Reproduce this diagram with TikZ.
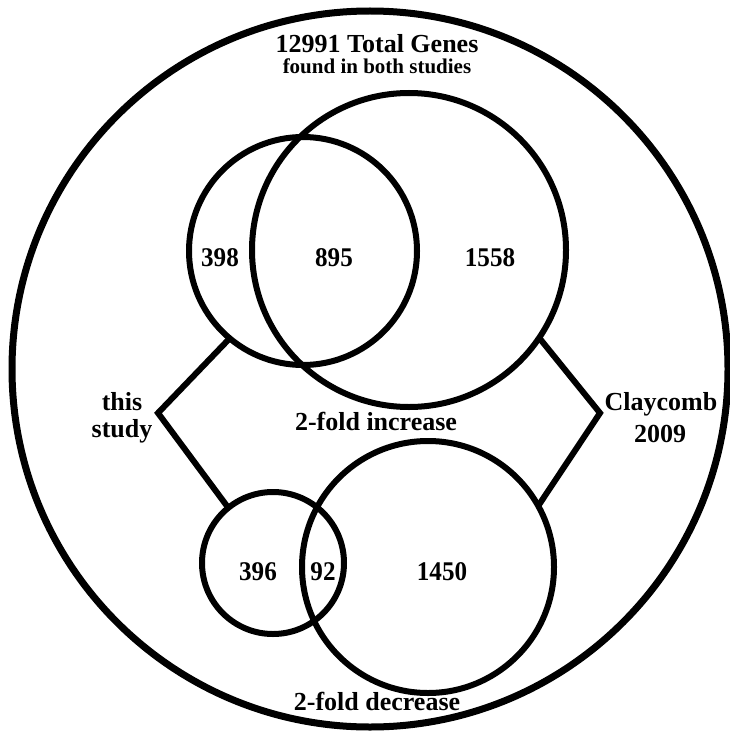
\documentclass[tikz,border=0pt]{standalone}
\usepackage{fontspec}
\setmainfont{Liberation Serif}
\begin{document}
\begin{tikzpicture}[x=1pt,y=-1pt,
  ring/.style={circle, draw, line width=6pt, inner sep=0pt, outer sep=0pt},
  conn/.style={line width=6pt, line join=miter},
  lab/.style={font=\bfseries\fontsize{26}{30}\selectfont, inner sep=0pt, anchor=base},
  num/.style={font=\bfseries\fontsize{27}{30}\selectfont, inner sep=0pt, anchor=base},
  sub/.style={font=\bfseries\fontsize{21}{25}\selectfont, inner sep=0pt, anchor=base}]
\useasboundingbox (0,0) rectangle (730,733);
% outer circle
\node[ring, line width=7pt, minimum size=716pt] (all) at (370,369) {};
% increase circles
\node[ring, minimum size=228pt] (si) at (303,251) {};
\node[ring, minimum size=314pt] (ci) at (409,250) {};
% decrease circles
\node[ring, minimum size=142pt] (sd) at (273,563) {};
\node[ring, minimum size=252pt] (cd) at (428,567) {};
% vertices
\coordinate (vl) at (158,413);
\coordinate (vr) at (600,413);
\draw[conn] (si.230) -- (vl) -- (sd.129);
\draw[conn] (ci.326.5) -- (vr) -- (cd.29);
% texts
\node[lab] (title) at (377,53) {12991 Total Genes};
\node[sub] (subt) at (377,74) {found in both studies};
\node[num] (n398) at (220,266) {\scalebox{0.93}[1]{398}};
\node[num] (n895) at (334,266) {\scalebox{0.93}[1]{895}};
\node[num] (n1558) at (490,266) {\scalebox{0.93}[1]{1558}};
\node[lab] (this) at (122,410) {this};
\node[lab] (study) at (122,437) {study};
\node[lab] (clay) at (661,410) {Claycomb};
\node[lab] (yr) at (660,442) {2009};
\node[lab] (inc) at (376,430) {2-fold increase};
\node[num] (n396) at (258,580) {\scalebox{0.93}[1]{396}};
\node[num] (n92) at (323,580) {\scalebox{0.93}[1]{92}};
\node[num] (n1450) at (442,580) {\scalebox{0.93}[1]{1450}};
\node[lab] (dec) at (377,710) {2-fold decrease};
\end{tikzpicture}
\end{document}
